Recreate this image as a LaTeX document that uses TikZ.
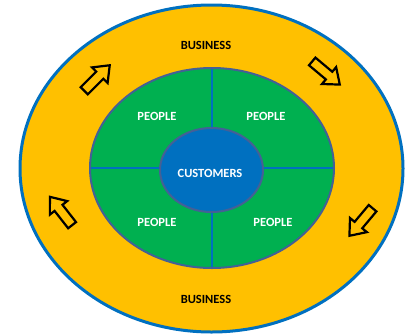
\documentclass[tikz,border=0pt]{standalone}
\usepackage{fontspec}
\setmainfont{Carlito}
\definecolor{bizyellow}{RGB}{255,192,0}
\definecolor{ringblue}{RGB}{0,112,192}
\definecolor{peoplegreen}{RGB}{0,176,80}
\definecolor{edgeslate}{RGB}{68,96,150}
\tikzset{
  lbl/.style={font=\fontsize{12.5}{14}\selectfont\bfseries, inner sep=0pt},
  arrowline/.style={draw=black, line width=2.2pt, line join=miter, fill=bizyellow},
  blockarrow/.pic={\path[arrowline] (-18,-5) -- (4,-5) -- (4,-11) -- (18,0) -- (4,11) -- (4,5) -- (-18,5) -- cycle;}
}
\begin{document}
\begin{tikzpicture}[x=1pt,y=-1pt]
\useasboundingbox (0,0) rectangle (414,335);
% outer business ring
\path[fill=bizyellow, draw=ringblue, line width=3pt] (211.5,168.5) ellipse [x radius=191.5, y radius=163.5];
% people ring
\path[fill=peoplegreen] (212,168) ellipse [x radius=122, y radius=100];
\coordinate (gtop) at (212,68);
\coordinate (gbot) at (212,268);
\coordinate (gleft) at (90,168);
\coordinate (gright) at (334,168);
\draw[ringblue, line width=2.2pt] (gtop) -- (gbot);
\draw[ringblue, line width=2.2pt] (gleft) -- (gright);
\draw[edgeslate, line width=2pt] (212,168) ellipse [x radius=122, y radius=100];
% customers
\path[fill=ringblue, draw=edgeslate, line width=2pt] (211.5,170) ellipse [x radius=51.5, y radius=42];
% labels
\node[lbl] (biztop) at (206,45) {BUSINESS};
\node[lbl] (bizbot) at (206,299) {BUSINESS};
\node[lbl, white] (p1) at (157,116) {PEOPLE};
\node[lbl, white] (p2) at (266,116) {PEOPLE};
\node[lbl, white] (p3) at (157,222) {PEOPLE};
\node[lbl, white] (p4) at (273,222) {PEOPLE};
\node[lbl, white] (cust) at (210,173) {CUSTOMERS};
% rotation arrows
\pic[rotate=45] at (97,78) {blockarrow};
\pic[rotate=-40] at (326,73) {blockarrow};
\pic[rotate=-130] at (361,222) {blockarrow};
\pic[rotate=128] at (61,211) {blockarrow};
\end{tikzpicture}
\end{document}
